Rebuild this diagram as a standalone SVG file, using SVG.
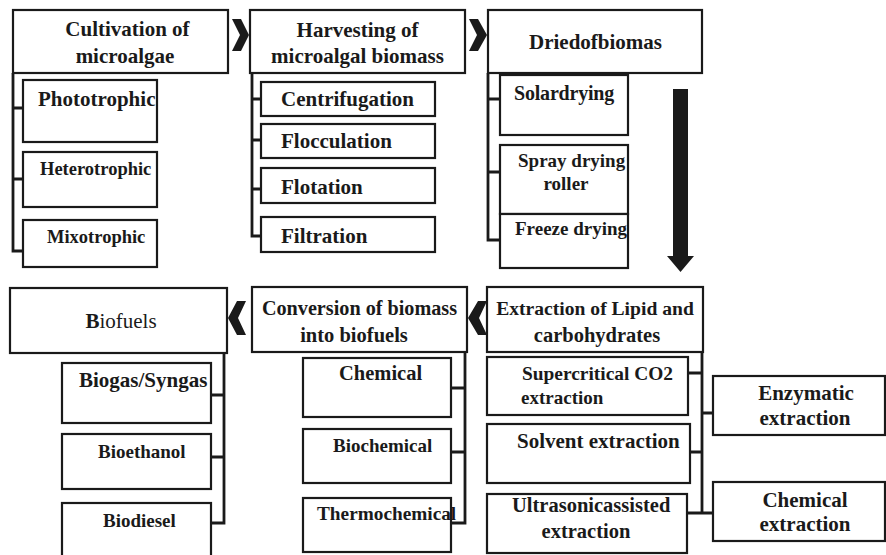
<svg xmlns="http://www.w3.org/2000/svg" width="886" height="555" viewBox="0 0 886 555">
  <style>
    .box { fill: #ffffff; stroke: #1a1a1a; stroke-width: 2.2; }
    .link { fill: none; stroke: #1a1a1a; stroke-width: 2.8; }
    .mark { fill: #1a1a1a; }
    text { font-family: "Liberation Serif", "Times New Roman", serif; font-weight: bold; fill: #1a1a1a; }
    .t { font-size: 21px; }
    .c { text-anchor: middle; }
  </style>
  <rect width="886" height="555" fill="#ffffff"/>

  <!-- connectors: brackets, chevrons and the downward arrow -->
  <g id="connectors">
    <path class="link" d="M13,73 V251 H23 M13,108 H23 M13,179 H23"/>
    <path class="link" d="M252,73 V236 H261 M252,99 H261 M252,140 H261 M252,189 H261"/>
    <path class="link" d="M488,73 V240 H500 M488,99 H500 M488,172 H500"/>
    <path class="link" d="M224,353 V523 H211 M224,395 H211 M224,457 H211"/>
    <path class="link" d="M465,352 V523 H451 M465,388 H451 M465,452 H451"/>
    <path class="link" d="M702,352 V513 H687 M702,373 H688 M702,452 H690 M702,413 H713 M702,513 H713"/>
    <polygon class="mark" points="232,19 241,19 249,35 241,51 232,51 240,35"/>
    <polygon class="mark" points="469,19 478,19 487,35 478,51 469,51 477,35"/>
    <polygon class="mark" points="246,301 237,301 228,318 237,335 246,335 238,318"/>
    <polygon class="mark" points="487,301 478,301 468,318 478,335 487,335 479,318"/>
    <polygon class="mark" points="673,89 688,89 688,256 694,256 680.5,272 667,256 673,256"/>
  </g>

  <!-- stage 1: cultivation -->
  <g id="cultivation">
    <rect class="box" x="13" y="10" width="215" height="63"/>
    <text class="t c" x="127.5" y="36">Cultivation of</text>
    <text class="t c" x="125" y="63">microalgae</text>
  </g>
  <g id="phototrophic">
    <rect class="box" x="23" y="80" width="134" height="62"/>
    <text x="38" y="106" font-size="21">Phototrophic</text>
  </g>
  <g id="heterotrophic">
    <rect class="box" x="23" y="152" width="134" height="55"/>
    <text x="40" y="175" font-size="18.5">Heterotrophic</text>
  </g>
  <g id="mixotrophic">
    <rect class="box" x="23" y="220" width="134" height="47"/>
    <text x="47" y="243" font-size="18.5">Mixotrophic</text>
  </g>

  <!-- stage 2: harvesting -->
  <g id="harvesting">
    <rect class="box" x="250" y="10" width="215" height="63"/>
    <text class="t c" x="357.5" y="37">Harvesting of</text>
    <text class="t c" x="357.5" y="63">microalgal biomass</text>
  </g>
  <g id="centrifugation">
    <rect class="box" x="261" y="82" width="174" height="34"/>
    <text class="t" x="281" y="106">Centrifugation</text>
  </g>
  <g id="flocculation">
    <rect class="box" x="261" y="124" width="174" height="34"/>
    <text class="t" x="281" y="148">Flocculation</text>
  </g>
  <g id="flotation">
    <rect class="box" x="261" y="168" width="174" height="35"/>
    <text class="t" x="281" y="194">Flotation</text>
  </g>
  <g id="filtration">
    <rect class="box" x="261" y="217" width="174" height="35"/>
    <text class="t" x="281" y="243">Filtration</text>
  </g>

  <!-- stage 3: drying -->
  <g id="drying">
    <rect class="box" x="488" y="10" width="214" height="63"/>
    <text class="t c" x="595.5" y="49">Driedofbiomas</text>
  </g>
  <g id="solar-drying">
    <rect class="box" x="500" y="75" width="128" height="60"/>
    <text x="514" y="100" font-size="20" letter-spacing="-0.2">Solardrying</text>
  </g>
  <g id="spray-drying">
    <rect class="box" x="500" y="145" width="128" height="69"/>
    <text x="518" y="167" font-size="19">Spray drying</text>
    <text class="c" x="566" y="190" font-size="19">roller</text>
  </g>
  <g id="freeze-drying">
    <rect class="box" x="500" y="214" width="128" height="54"/>
    <text x="515" y="235" font-size="19">Freeze drying</text>
  </g>

  <!-- stage 4: extraction -->
  <g id="extraction">
    <rect class="box" x="487" y="287" width="216" height="65"/>
    <text class="c" x="595" y="315" font-size="19.6">Extraction of Lipid and</text>
    <text class="c" x="597" y="342" font-size="20.5">carbohydrates</text>
  </g>
  <g id="supercritical">
    <rect class="box" x="487" y="357" width="201" height="58"/>
    <text x="522" y="380" font-size="19.4">Supercritical  CO2</text>
    <text x="521" y="404" font-size="19">extraction</text>
  </g>
  <g id="solvent">
    <rect class="box" x="487" y="424" width="203" height="59"/>
    <text class="t" x="517" y="448">Solvent extraction</text>
  </g>
  <g id="ultrasonic">
    <rect class="box" x="487" y="494" width="200" height="59"/>
    <text x="512" y="512" font-size="20.5">Ultrasonicassisted</text>
    <text class="c" x="586" y="538" font-size="20.5">extraction</text>
  </g>
  <g id="enzymatic">
    <rect class="box" x="713" y="376" width="172" height="59"/>
    <text class="t c" x="806" y="400">Enzymatic</text>
    <text class="t c" x="805" y="425">extraction</text>
  </g>
  <g id="chemical-extraction">
    <rect class="box" x="713" y="482" width="172" height="59"/>
    <text class="t c" x="805" y="507">Chemical</text>
    <text class="t c" x="805" y="531">extraction</text>
  </g>

  <!-- stage 5: conversion -->
  <g id="conversion">
    <rect class="box" x="252" y="287" width="215" height="65"/>
    <text class="c" x="359.5" y="315" font-size="20.2">Conversion of biomass</text>
    <text class="c" x="354" y="342" font-size="20.5">into biofuels</text>
  </g>
  <g id="chemical">
    <rect class="box" x="303" y="358" width="148" height="59"/>
    <text x="339" y="380" font-size="20.5">Chemical</text>
  </g>
  <g id="biochemical">
    <rect class="box" x="303" y="429" width="148" height="54"/>
    <text x="333" y="452" font-size="19">Biochemical</text>
  </g>
  <g id="thermochemical">
    <rect class="box" x="303" y="498" width="148" height="54"/>
    <text x="317" y="520" font-size="19.3">Thermochemical</text>
  </g>

  <!-- stage 6: biofuels -->
  <g id="biofuels">
    <rect class="box" x="10" y="288" width="217" height="65"/>
    <text class="c" x="121" y="328" font-size="21">B<tspan font-weight="normal">iofuels</tspan></text>
  </g>
  <g id="biogas">
    <rect class="box" x="62" y="363" width="149" height="60"/>
    <text class="t" x="79" y="387">Biogas/Syngas</text>
  </g>
  <g id="bioethanol">
    <rect class="box" x="62" y="434" width="149" height="55"/>
    <text x="98" y="458" font-size="19">Bioethanol</text>
  </g>
  <g id="biodiesel">
    <rect class="box" x="62" y="503" width="149" height="60"/>
    <text x="103" y="527" font-size="19">Biodiesel</text>
  </g>
</svg>
